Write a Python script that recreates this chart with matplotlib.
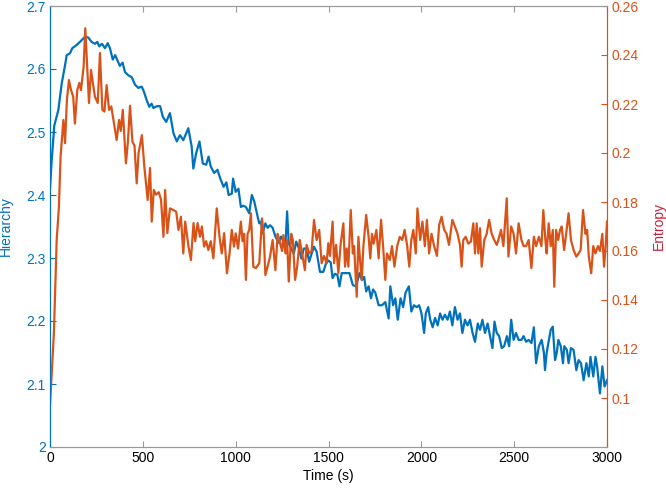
import matplotlib
matplotlib.use("Agg")
import matplotlib.pyplot as plt

plt.rcParams['font.family'] = ['Liberation Sans', 'DejaVu Sans']

# ---- datos ----
t_hier = [0, 8, 23, 45, 63, 81, 90, 108, 120, 143, 161, 188, 206, 224, 242, 255, 265, 280,
          296, 311, 323, 338, 351, 363, 376, 391, 404, 422, 440, 458, 476, 494, 506, 520,
          535, 547, 557, 575, 593, 608, 626, 646, 665, 683, 700, 718, 745, 763, 772, 787,
          805, 823, 841, 854, 866, 884, 902, 917, 935, 950, 962, 979, 986, 1000, 1015, 1028,
          1040, 1055, 1073, 1087, 1100, 1118, 1127, 1136, 1145, 1160, 1172, 1185, 1199, 1214,
          1232, 1244, 1257, 1268, 1277, 1286, 1299, 1313, 1326, 1341, 1354, 1367, 1382, 1396,
          1409, 1422, 1436, 1454, 1472, 1486, 1499, 1512, 1522, 1535, 1548, 1559, 1571, 1589,
          1613, 1631, 1649, 1667, 1680, 1692, 1703, 1716, 1729, 1740, 1752, 1770, 1788, 1806,
          1824, 1833, 1848, 1860, 1873, 1888, 1902, 1915, 1933, 1946, 1960, 1975, 1988, 2001,
          2015, 2024, 2037, 2048, 2061, 2074, 2088, 2101, 2114, 2127, 2141, 2154, 2167, 2181,
          2195, 2208, 2221, 2235, 2249, 2262, 2276, 2289, 2304, 2316, 2329, 2343, 2357, 2370,
          2383, 2394, 2406, 2419, 2433, 2446, 2461, 2473, 2484, 2497, 2510, 2524, 2539, 2551,
          2564, 2578, 2593, 2606, 2618, 2633, 2648, 2660, 2666, 2675, 2684, 2697, 2708, 2720,
          2729, 2738, 2751, 2763, 2770, 2784, 2793, 2806, 2820, 2835, 2847, 2860, 2874, 2889,
          2902, 2911, 2926, 2938, 2947, 2962, 2975, 2987, 3000]
hierarchy = [2.41, 2.45, 2.51, 2.535, 2.577, 2.606, 2.622, 2.625, 2.633, 2.638, 2.643, 2.651,
             2.650, 2.643, 2.640, 2.643, 2.636, 2.640, 2.633, 2.641, 2.633, 2.615, 2.622, 2.614,
             2.605, 2.610, 2.595, 2.590, 2.587, 2.575, 2.570, 2.572, 2.564, 2.551, 2.540, 2.545,
             2.538, 2.541, 2.541, 2.524, 2.516, 2.530, 2.498, 2.485, 2.495, 2.487, 2.506, 2.477,
             2.442, 2.466, 2.485, 2.450, 2.448, 2.461, 2.445, 2.435, 2.440, 2.426, 2.413, 2.420,
             2.400, 2.402, 2.426, 2.405, 2.410, 2.381, 2.383, 2.381, 2.371, 2.400, 2.390, 2.366,
             2.355, 2.358, 2.339, 2.355, 2.348, 2.352, 2.348, 2.334, 2.324, 2.334, 2.327, 2.320,
             2.374, 2.323, 2.315, 2.307, 2.326, 2.315, 2.299, 2.315, 2.315, 2.294, 2.307, 2.318,
             2.310, 2.278, 2.278, 2.291, 2.296, 2.293, 2.268, 2.275, 2.273, 2.255, 2.276, 2.276,
             2.276, 2.257, 2.255, 2.276, 2.265, 2.270, 2.247, 2.255, 2.236, 2.250, 2.245, 2.225,
             2.225, 2.230, 2.204, 2.255, 2.225, 2.236, 2.202, 2.236, 2.222, 2.245, 2.255, 2.215,
             2.225, 2.222, 2.225, 2.212, 2.181, 2.212, 2.222, 2.202, 2.190, 2.205, 2.193, 2.212,
             2.202, 2.210, 2.202, 2.215, 2.193, 2.222, 2.202, 2.212, 2.181, 2.202, 2.193, 2.202,
             2.181, 2.167, 2.196, 2.186, 2.202, 2.181, 2.196, 2.176, 2.157, 2.199, 2.181, 2.176,
             2.157, 2.160, 2.176, 2.160, 2.202, 2.170, 2.181, 2.170, 2.170, 2.176, 2.167, 2.170,
             2.165, 2.190, 2.133, 2.160, 2.170, 2.150, 2.122, 2.149, 2.165, 2.186, 2.191, 2.138,
             2.149, 2.170, 2.160, 2.133, 2.160, 2.154, 2.133, 2.157, 2.154, 2.122, 2.138, 2.133,
             2.106, 2.133, 2.112, 2.143, 2.112, 2.143, 2.127, 2.085, 2.128, 2.096, 2.106]

t_ent = [0, 21, 36, 48, 57, 72, 81, 91, 102, 113, 125, 134, 147, 158, 167, 181, 190, 210, 221,
         232, 242, 257, 269, 282, 293, 305, 318, 330, 345, 359, 372, 381, 392, 409, 420, 431,
         444, 455, 467, 477, 495, 508, 526, 539, 548, 559, 571, 586, 598, 611, 620, 632, 646,
         665, 680, 692, 705, 718, 728, 746, 759, 773, 782, 795, 808, 818, 830, 841, 853, 866,
         880, 898, 913, 925, 938, 953, 967, 979, 991, 1000, 1013, 1028, 1037, 1046, 1055, 1064,
         1073, 1082, 1095, 1109, 1127, 1142, 1151, 1160, 1172, 1185, 1199, 1214, 1226, 1235,
         1250, 1257, 1268, 1277, 1286, 1299, 1308, 1320, 1331, 1345, 1360, 1373, 1382, 1396,
         1409, 1422, 1436, 1450, 1463, 1476, 1490, 1499, 1508, 1522, 1530, 1541, 1553, 1566,
         1580, 1589, 1598, 1607, 1620, 1631, 1638, 1652, 1661, 1670, 1679, 1688, 1703, 1716,
         1725, 1734, 1743, 1758, 1770, 1783, 1794, 1806, 1815, 1830, 1842, 1855, 1870, 1884,
         1897, 1910, 1924, 1935, 1946, 1957, 1970, 1979, 1994, 2006, 2019, 2030, 2042, 2055,
         2069, 2084, 2096, 2109, 2123, 2136, 2149, 2160, 2167, 2181, 2195, 2208, 2217, 2226,
         2239, 2253, 2267, 2280, 2289, 2298, 2307, 2316, 2325, 2339, 2352, 2365, 2379, 2393,
         2406, 2415, 2429, 2442, 2460, 2469, 2484, 2497, 2510, 2524, 2539, 2551, 2564, 2578,
         2593, 2606, 2618, 2633, 2647, 2657, 2668, 2675, 2686, 2697, 2708, 2716, 2726, 2737,
         2747, 2756, 2769, 2780, 2793, 2806, 2820, 2835, 2847, 2858, 2871, 2884, 2893, 2902,
         2915, 2926, 2938, 2951, 2962, 2975, 2984, 2993, 3000]
entropy = [0.097, 0.1265, 0.1645, 0.178, 0.1985, 0.2135, 0.204, 0.2216, 0.2298, 0.2258, 0.223,
           0.212, 0.2257, 0.2286, 0.2257, 0.2352, 0.2509, 0.2204, 0.2339, 0.228, 0.223, 0.2204,
           0.2408, 0.2176, 0.2169, 0.2277, 0.2176, 0.219, 0.212, 0.2053, 0.2135, 0.209, 0.2176,
           0.1958, 0.205, 0.2193, 0.2046, 0.203, 0.1876, 0.200, 0.2073, 0.1945, 0.1808, 0.1939,
           0.172, 0.1849, 0.183, 0.184, 0.181, 0.1658, 0.1849, 0.1673, 0.1774, 0.1767, 0.176,
           0.1686, 0.174, 0.159, 0.172, 0.1618, 0.1563, 0.1714, 0.164, 0.1714, 0.1658, 0.170,
           0.1618, 0.164, 0.1604, 0.164, 0.157, 0.1774, 0.1658, 0.159, 0.1673, 0.1509, 0.159,
           0.1686, 0.1618, 0.1672, 0.161, 0.172, 0.164, 0.167, 0.1482, 0.167, 0.1686, 0.1754,
           0.1536, 0.153, 0.155, 0.1733, 0.167, 0.1502, 0.1536, 0.1577, 0.1645, 0.1522, 0.167,
           0.1645, 0.160, 0.1665, 0.159, 0.1645, 0.1475, 0.167, 0.1645, 0.1482, 0.1536, 0.1645,
           0.158, 0.1522, 0.1625, 0.159, 0.160, 0.1727, 0.1645, 0.1686, 0.155, 0.158, 0.155,
           0.1632, 0.158, 0.172, 0.155, 0.1625, 0.1509, 0.1632, 0.1713, 0.1536, 0.161, 0.1536,
           0.1767, 0.159, 0.162, 0.1413, 0.1658, 0.1563, 0.1482, 0.162, 0.1747, 0.1658, 0.157,
           0.167, 0.163, 0.1686, 0.157, 0.1727, 0.162, 0.1482, 0.159, 0.1563, 0.162, 0.1536,
           0.162, 0.1658, 0.1645, 0.1686, 0.162, 0.1536, 0.1645, 0.1686, 0.159, 0.1774, 0.1645,
           0.172, 0.162, 0.1727, 0.159, 0.167, 0.162, 0.158, 0.1706, 0.174, 0.1686, 0.167,
           0.1625, 0.1686, 0.1727, 0.170, 0.167, 0.1625, 0.1536, 0.1645, 0.1658, 0.163, 0.1638,
           0.1713, 0.159, 0.1713, 0.159, 0.1693, 0.1536, 0.1645, 0.167, 0.1727, 0.167, 0.1645,
           0.1625, 0.1645, 0.1686, 0.162, 0.1815, 0.1577, 0.170, 0.167, 0.159, 0.1713, 0.1645,
           0.162, 0.162, 0.1645, 0.153, 0.1658, 0.162, 0.1658, 0.162, 0.1767, 0.1645, 0.159,
           0.1713, 0.162, 0.1686, 0.1454, 0.1686, 0.1645, 0.1686, 0.170, 0.1604, 0.167, 0.1754,
           0.1645, 0.1604, 0.1577, 0.159, 0.1604, 0.1767, 0.167, 0.1686, 0.1577, 0.1509, 0.162,
           0.159, 0.162, 0.160, 0.167, 0.1536, 0.162, 0.172]

x_ticks = [0, 500, 1000, 1500, 2000, 2500, 3000]
h_ticks = [2, 2.1, 2.2, 2.3, 2.4, 2.5, 2.6, 2.7]
h_labels = ['2', '2.1', '2.2', '2.3', '2.4', '2.5', '2.6', '2.7']
e_ticks = [0.1, 0.12, 0.14, 0.16, 0.18, 0.2, 0.22, 0.24, 0.26]
e_labels = ['0.1', '0.12', '0.14', '0.16', '0.18', '0.2', '0.22', '0.24', '0.26']

azul = '#0072BD'
naranja = '#D95319'
gris = '#9a9a9a'

fig = plt.figure(figsize=(6.66, 4.88), dpi=100)
ax = fig.add_axes([50 / 666, 41 / 488, 557 / 666, 441 / 488])
ax2 = ax.twinx()

ax.plot(t_hier, hierarchy, color=azul, lw=1.6)
ax2.plot(t_ent, entropy, color=naranja, lw=1.6)

# eje izquierdo
ax.set_xlim(0, 3000)
ax.set_ylim(2, 2.7)
ax.set_xticks(x_ticks)
ax.set_yticks(h_ticks)
ax.set_yticklabels(h_labels)
ax.set_xlabel('Time (s)', fontsize=10, labelpad=3)
ax.set_ylabel('Hierarchy', color=azul, fontsize=10)
ax.yaxis.set_label_coords(-0.066, 0.5)
ax.tick_params(axis='x', direction='in', top=True, length=4, color=gris,
               labelsize=10, pad=3)
ax.tick_params(axis='y', direction='in', length=4, color=azul, labelcolor=azul,
               labelsize=10, pad=3)

# eje derecho
ax2.set_ylim(0.08, 0.26)
ax2.set_yticks(e_ticks)
ax2.set_yticklabels(e_labels)
ax2.set_ylabel('Entropy', color='#C8213A', fontsize=10)
ax2.yaxis.set_label_coords(1.08, 0.5)
ax2.tick_params(axis='y', direction='in', length=4, color=naranja, labelcolor=naranja,
                labelsize=10, pad=3)

for a in (ax, ax2):
    a.spines['top'].set_color(gris)
    a.spines['bottom'].set_color(gris)
    a.spines['left'].set_color(azul)
    a.spines['right'].set_color(naranja)
    for s in a.spines.values():
        s.set_linewidth(0.8)

fig.savefig('out.png', dpi=100)
